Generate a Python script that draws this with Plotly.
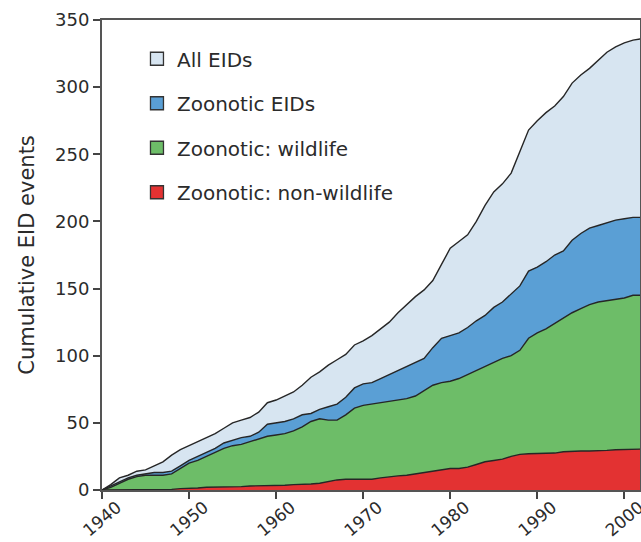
import plotly.graph_objects as go

years = list(range(1940, 2003))

all_eids = [0, 4, 9, 11, 14, 15, 18, 21, 26, 30,
            33, 36, 39, 42, 46, 50, 52, 54, 58, 65,
            67, 70, 73, 78, 84, 88, 93, 97, 101, 108,
            111, 115, 120, 125, 132, 138, 144, 149, 156, 168,
            180, 185, 190, 200, 212, 222, 228, 236, 252, 268,
            275, 281, 286, 293, 303, 309, 314, 320, 326, 330,
            333, 335, 336]

zoonotic = [0, 3, 6, 9, 11, 12, 13, 13, 14, 18,
            22, 25, 28, 31, 35, 37, 39, 40, 43, 49,
            50, 51, 53, 56, 57, 60, 62, 64, 69, 76,
            79, 80, 83, 86, 89, 92, 95, 98, 106, 113,
            115, 117, 121, 126, 130, 136, 140, 146, 152, 163,
            166, 170, 175, 178, 186, 191, 195, 197, 199, 201,
            202, 203, 203]

wildlife = [0, 2, 5, 8, 10, 11, 11, 11, 12, 16,
            20, 22, 25, 28, 31, 33, 34, 36, 38, 40,
            41, 42, 44, 47, 51, 53, 52, 52, 56, 61,
            63, 64, 65, 66, 67, 68, 70, 74, 78, 80,
            81, 83, 86, 89, 92, 95, 98, 100, 104, 113,
            117, 120, 124, 128, 132, 135, 138, 140, 141, 142,
            143, 145, 145]

non_wildlife = [0, 0, 0, 0, 0, 0, 0, 0, 0.5, 1,
                1, 1.5, 2, 2, 2, 2, 2.5, 3, 3, 3,
                3, 3.5, 4, 4, 4.5, 5, 6.5, 7.5, 8, 8,
                8, 8, 9, 10, 10.5, 11, 12, 13, 14, 15,
                16, 16, 17, 19, 21, 22, 23, 25, 26.5, 27,
                27, 27, 27.5, 28.5, 29, 29, 29, 29, 29.5, 30,
                30, 30.5, 30.5]

series_names = ["All EIDs", "Zoonotic EIDs", "Zoonotic: wildlife", "Zoonotic: non-wildlife"]
series_values = [all_eids, zoonotic, wildlife, non_wildlife]
series_colors = ["#d7e5f1", "#5a9fd5", "#6dbd68", "#e33232"]

y_ticks = [0, 50, 100, 150, 200, 250, 300, 350]
x_ticks = [1940, 1950, 1960, 1970, 1980, 1990, 2000]

FONT = "DejaVu Sans, Liberation Sans, Arial, sans-serif"
TXT = "#2b2b2b"

fig = go.Figure()

for name, vals, col in zip(series_names, series_values, series_colors):
    fig.add_trace(go.Scatter(
        x=years, y=vals, mode="lines", fill="tozeroy",
        fillcolor=col, line=dict(color="#262626", width=1.4),
        showlegend=False, hoverinfo="skip"))

for i, (name, col) in enumerate(zip(series_names, series_colors)):
    fig.add_trace(go.Scatter(
        x=[None], y=[None], mode="markers", name=name,
        legendgroup=f"g{i}",
        marker=dict(symbol="square", size=13, color=col,
                    line=dict(color="#333333", width=1.3))))

fig.update_layout(
    width=641, height=542,
    margin=dict(l=102, r=1, t=20, b=52, autoexpand=False),
    paper_bgcolor="white", plot_bgcolor="white",
    font=dict(family=FONT, color=TXT, size=18),
    showlegend=True,
    legend=dict(x=0.065, y=0.959, xanchor="left", yanchor="top",
                bgcolor="rgba(0,0,0,0)", borderwidth=0,
                font=dict(family=FONT, size=20, color=TXT),
                tracegroupgap=15.5, itemwidth=30),
    xaxis=dict(range=[1940, 2001.8], tickmode="array", tickvals=x_ticks,
               ticktext=[str(t) for t in x_ticks],
               tickangle=-40, ticks="outside", ticklen=7, tickwidth=1.5,
               tickcolor="#444444", showline=True, linecolor="#555555",
               linewidth=2, mirror=True, showgrid=False, zeroline=False,
               automargin=False, ticklabeloverflow="allow",
               tickfont=dict(size=17, family=FONT, color=TXT),
               ticklabelshift=15, ticklabelstandoff=-8),
    yaxis=dict(range=[0, 350], tickmode="array", tickvals=y_ticks,
               ticktext=[str(t) for t in y_ticks],
               ticks="outside", ticklen=7, tickwidth=1.5, tickcolor="#444444",
               showline=True, linecolor="#555555", linewidth=2, mirror=True,
               showgrid=False, zeroline=False, automargin=False,
               tickfont=dict(size=18, family=FONT, color=TXT),
               title=dict(text="Cumulative EID events",
                          font=dict(size=21, family=FONT, color=TXT))),
)

fig.write_html("out.html", config={"displayModeBar": False},
               post_script="document.body.style.margin='0';document.body.style.padding='0';")
